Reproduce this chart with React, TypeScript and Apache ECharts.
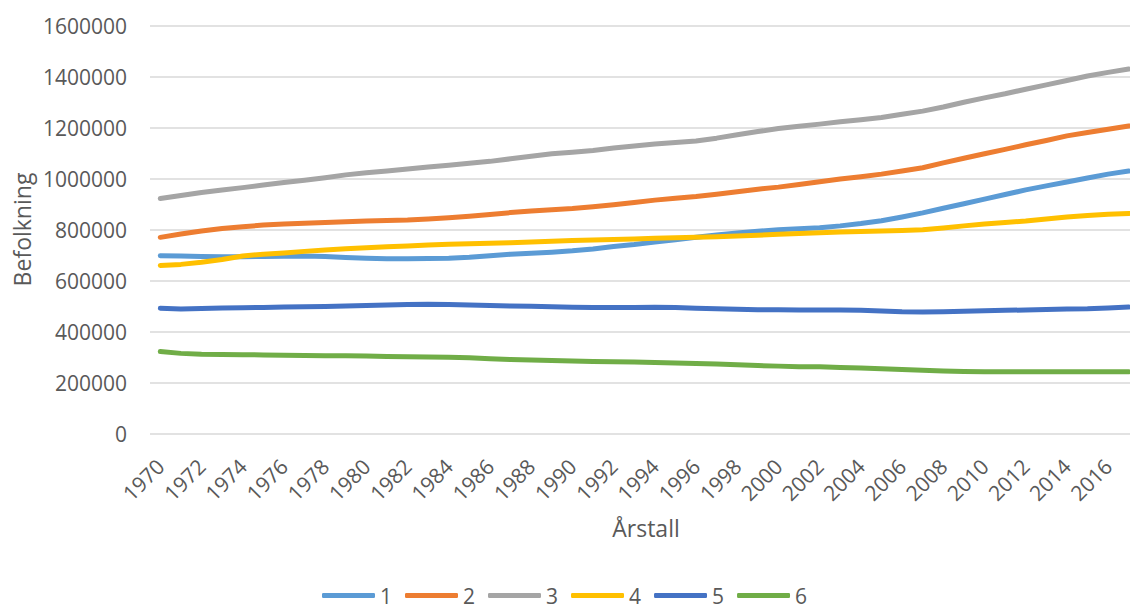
import React, { useEffect, useRef } from "react";
import * as echarts from "echarts";

const years: string[] = [];
for (let y = 1970; y <= 2017; y++) years.push(String(y));

const seriesNames = ["1", "2", "3", "4", "5", "6"];
const colors = ["#5B9BD5", "#ED7D31", "#A5A5A5", "#FFC000", "#4472C4", "#70AD47"];

// values in thousands, 1970..2017
const s1 = [698, 697, 695, 694, 694, 695, 696, 697, 695, 691, 688, 686, 686, 687, 688, 692, 698, 704, 708, 712, 717, 724, 734, 742, 752, 761, 770, 779, 787, 794, 800, 804, 808, 815, 824, 835, 850, 866, 884, 902, 920, 938, 956, 972, 987, 1003, 1018, 1030];
const s2 = [770, 783, 795, 805, 812, 818, 822, 825, 828, 831, 834, 836, 838, 842, 847, 853, 860, 867, 873, 878, 883, 890, 898, 907, 916, 923, 930, 939, 949, 959, 967, 977, 988, 999, 1008, 1018, 1030, 1043, 1062, 1080, 1098, 1115, 1133, 1150, 1168, 1181, 1194, 1207];
const s3 = [922, 934, 946, 956, 965, 975, 985, 994, 1004, 1015, 1023, 1030, 1038, 1046, 1053, 1061, 1068, 1078, 1088, 1098, 1104, 1111, 1120, 1128, 1136, 1142, 1148, 1159, 1172, 1185, 1197, 1206, 1214, 1223, 1231, 1240, 1253, 1265, 1281, 1300, 1317, 1333, 1351, 1368, 1385, 1403, 1417, 1430];
const s4 = [660, 664, 672, 683, 697, 704, 709, 715, 720, 725, 729, 733, 736, 740, 743, 745, 747, 749, 752, 755, 758, 760, 762, 764, 766, 768, 770, 772, 775, 778, 782, 785, 788, 791, 793, 795, 797, 800, 807, 815, 822, 828, 834, 842, 850, 856, 861, 864];
const s5 = [492, 489, 491, 493, 494, 495, 497, 498, 499, 501, 503, 505, 507, 508, 507, 505, 503, 501, 500, 498, 496, 495, 495, 495, 496, 495, 492, 490, 488, 486, 486, 485, 485, 485, 484, 481, 478, 477, 478, 480, 482, 484, 485, 487, 489, 490, 493, 497];
const s6 = [322, 315, 312, 311, 310, 309, 308, 307, 306, 306, 305, 303, 302, 301, 300, 298, 294, 291, 289, 287, 285, 283, 282, 281, 279, 277, 275, 273, 270, 267, 265, 263, 263, 260, 258, 255, 252, 249, 246, 244, 243, 243, 243, 243, 243, 243, 243, 243];

const seriesData = [s1, s2, s3, s4, s5, s6];

const FONT = "'Open Sans', 'Noto Sans', sans-serif";
const TEXT = "#595959";

export default function App() {
  const ref = useRef<HTMLDivElement>(null);
  useEffect(() => {
    if (!ref.current) return;
    const chart = echarts.init(ref.current, null, { renderer: "svg" });
    chart.setOption({
      animation: false,
      backgroundColor: "#ffffff",
      textStyle: { fontFamily: FONT },
      grid: { left: 150, right: 1, top: 25.7, bottom: 175.3, containLabel: false },
      xAxis: {
        type: "category",
        data: years,
        boundaryGap: true,
        axisLine: { show: false },
        axisTick: { show: false },
        axisLabel: {
          interval: 1,
          rotate: 45,
          margin: 29,
          fontSize: 21,
          color: TEXT,
          fontFamily: FONT,
        },
        splitLine: { show: false },
      },
      yAxis: {
        type: "value",
        min: 0,
        max: 1600000,
        interval: 200000,
        axisLine: { show: false },
        axisTick: { show: false },
        axisLabel: {
          margin: 23,
          fontSize: 21,
          color: TEXT,
          fontFamily: FONT,
          formatter: (v: number) => String(v),
        },
        splitLine: { lineStyle: { color: "#D9D9D9", width: 1.5 } },
      },
      legend: {
        data: seriesNames,
        left: 317,
        top: 580,
        icon: "roundRect",
        itemWidth: 53,
        itemHeight: 5,
        itemGap: 13,
        textStyle: { fontSize: 21, color: TEXT, fontFamily: FONT },
      },
      graphic: [
        {
          type: "text",
          x: 22,
          y: 229.5,
          rotation: Math.PI / 2,
          style: {
            text: "Befolkning",
            fontSize: 23,
            fill: TEXT,
            fontFamily: FONT,
            textAlign: "center",
            textVerticalAlign: "middle",
          },
        },
        {
          type: "text",
          x: 646,
          y: 528,
          style: {
            text: "Årstall",
            fontSize: 23,
            fill: TEXT,
            fontFamily: FONT,
            textAlign: "center",
            textVerticalAlign: "middle",
          },
        },
      ],
      series: seriesNames.map((name, i) => ({
        name,
        type: "line",
        data: seriesData[i].map((v) => v * 1000),
        symbol: "none",
        smooth: false,
        lineStyle: { color: colors[i], width: 5, cap: "round", join: "round" },
        itemStyle: { color: colors[i] },
      })),
    });
    return () => chart.dispose();
  }, []);
  return (
    <div style={{ position: "fixed", left: 0, top: 0, width: 1130, height: 609, overflow: "hidden", background: "#fff" }}>
      <div ref={ref} style={{ width: 1140, height: 609 }} />
    </div>
  );
}
